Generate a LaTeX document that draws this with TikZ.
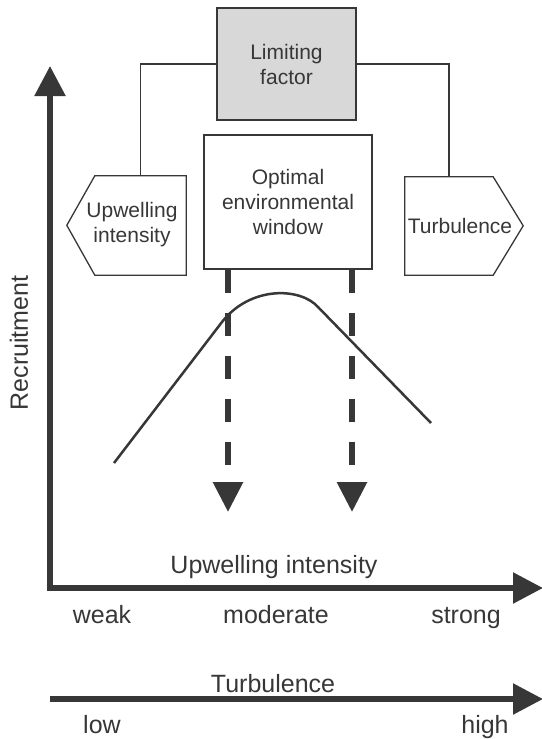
\documentclass[tikz,border=0pt]{standalone}
\usepackage{fontspec}
\setmainfont{Liberation Sans}
\usetikzlibrary{positioning, calc, arrows.meta}
\definecolor{ink}{RGB}{55,55,55}
\definecolor{shade}{RGB}{216,216,216}

\tikzset{
  box/.style={draw=ink, line width=1.3pt, align=center, text=ink, inner sep=0pt,
    font=\fontsize{21}{25}\selectfont},
  boxtxt/.style={align=center, text=ink, inner sep=0pt, font=\fontsize{21}{25}\selectfont},
  lbl/.style={text=ink, inner sep=0pt, anchor=base, font=\fontsize{25}{30}\selectfont},
  axis/.style={draw=ink, line width=5.5pt, -{Triangle[length=30pt,width=30pt]}},
  window/.style={draw=ink, line width=6pt, dash pattern=on 23pt off 20pt,
    -{Triangle[length=30pt,width=29pt]}},
  link/.style={draw=ink, line width=1.3pt},
}

\begin{document}
\begin{tikzpicture}[x=1pt, y=-1pt]
  \useasboundingbox (0,0) rectangle (541,739);
  %boxes
  \node[box, fill=shade, line width=1.8pt, minimum width=139pt, minimum height=112pt] (lim) at (286.5,64) {Limiting\\factor};
  \node[box, minimum width=168pt, minimum height=134pt] (opt) at (288,202) {Optimal\\environmental\\window};
  %side signs
  \node[minimum width=91pt, minimum height=99pt, inner sep=0pt] (upw) at (140.5,225.5) {};
  \draw[link] (upw.north east) -- (upw.north west) -- ++(-28,49.5) -- (upw.south west) -- (upw.south east) -- cycle;
  \node[boxtxt] (upwtxt) at (132,225) {Upwelling\\intensity};
  \node[minimum width=88pt, minimum height=98pt, inner sep=0pt] (turb) at (449,226) {};
  \draw[link] (turb.north west) -- (turb.north east) -- ++(30,49) -- (turb.south east) -- (turb.south west) -- cycle;
  \node[boxtxt] (turbtxt) at (460,226) {Turbulence};
  %links
  \draw[link] (lim.west) -| (upw.north);
  \draw[link] (lim.east) -| (turb.north);
  %axes
  \coordinate (o) at (50,588);
  \coordinate (ytip) at (50,66);
  \coordinate (xtip) at (543,588);
  \coordinate (tl) at (50,699);
  \coordinate (tr) at (543,699);
  \draw[axis, {Triangle[length=30pt,width=30pt]}-{Triangle[length=30pt,width=30pt]}, line join=miter] (ytip) -- (o) -- (xtip);
  \draw[axis] (tl) -- (tr);
  %window arrows
  \coordinate (w1) at (228,512);
  \coordinate (w2) at (352,512);
  \draw[window] (opt.south -| w1) -- (w1);
  \draw[window] (opt.south -| w2) -- (w2);
  %curve
  \draw[ink, line width=2.5pt] (114,463) -- (222,322) .. controls (250,286) and (300,287) .. (318,307) -- (431,423);
  %labels
  \node[lbl, rotate=90, anchor=center] (rec) at (19,343) {Recruitment};
  \node[lbl] (xlab) at (274,573) {Upwelling intensity};
  \node[lbl] (weak) at (102,623) {weak};
  \node[lbl] (mod) at (276,623) {moderate};
  \node[lbl] (strong) at (466,623) {strong};
  \node[lbl] (tlab) at (273,692) {Turbulence};
  \node[lbl] (low) at (102,733) {low};
  \node[lbl] (high) at (485,733) {high};
\end{tikzpicture}
\end{document}
